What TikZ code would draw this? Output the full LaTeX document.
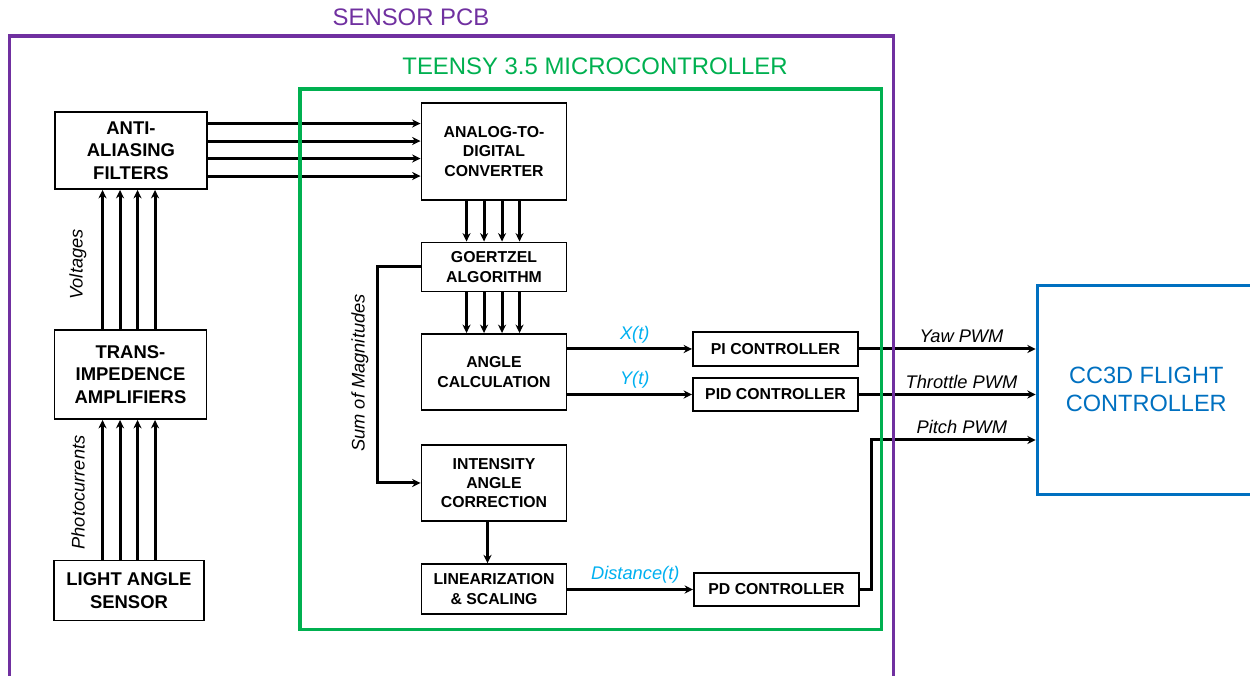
\documentclass[tikz,border=0pt]{standalone}
\usepackage{fontspec}
\setmainfont{Liberation Sans}
\usetikzlibrary{arrows.meta,positioning,calc}
\definecolor{pcb}{HTML}{7030A0}
\definecolor{teensy}{HTML}{00B050}
\definecolor{fc}{HTML}{0070C0}
\definecolor{sig}{HTML}{00B0F0}
\tikzset{
  block/.style={draw=black, fill=white, line width=1.1pt, align=center, inner sep=2pt},
  sensorbox/.style={block, font=\fontsize{10.5}{12.8}\selectfont\bfseries},
  mcubox/.style={block, font=\fontsize{9}{11}\selectfont\bfseries},
  arrow/.style={-{Stealth[length=4.8pt,width=4.6pt]}, line width=1.7pt, draw=black},
  frame/.style={line width=2pt},
  tag/.style={font=\fontsize{10.4}{12}\selectfont\itshape, inner sep=2.5pt},
  vtag/.style={tag, rotate=90},
  sigtag/.style={tag, text=sig},
  heading/.style={font=\fontsize{13.6}{16}\selectfont}
}

\begin{document}
\begin{tikzpicture}[x=1cm,y=1cm]
  \useasboundingbox (0,0) rectangle (25,13.52);
  \clip (0,0) rectangle (25,13.52);

  % sensor chain (left)
  \node[sensorbox, minimum width=3.04cm, minimum height=1.54cm] (aaf) at (2.62,10.51) {ANTI-\\ALIASING\\FILTERS};
  \node[sensorbox, minimum width=3.04cm, minimum height=1.78cm] (tia) at (2.61,6.03) {TRANS-\\IMPEDENCE\\AMPLIFIERS};
  \node[sensorbox, minimum width=3.0cm, minimum height=1.2cm] (las) at (2.58,1.71) {LIGHT ANGLE\\SENSOR};
  \foreach \dx in {0.97,1.32,1.67,2.02} {
    \coordinate (v) at ($(aaf.south west)+(\dx,0)$);
    \draw[arrow] (v |- las.north) -- (v |- tia.south);
    \draw[arrow] (v |- tia.north) -- (v);
  }
  \node[vtag] (volt) at (1.56,8.23) {Voltages};
  \node[vtag] (photo) at (1.56,3.67) {Photocurrents};

  % microcontroller blocks
  \node[mcubox, minimum width=2.9cm, minimum height=1.95cm] (adc) at (9.88,10.49) {ANALOG-TO-\\DIGITAL\\CONVERTER};
  \node[mcubox, minimum width=2.9cm, minimum height=0.98cm] (goe) at (9.88,8.18) {GOERTZEL\\ALGORITHM};
  \node[mcubox, minimum width=2.9cm, minimum height=1.52cm] (ang) at (9.88,6.08) {ANGLE\\CALCULATION};
  \node[mcubox, minimum width=2.9cm, minimum height=1.51cm] (ica) at (9.88,3.86) {INTENSITY\\ANGLE\\CORRECTION};
  \node[mcubox, minimum width=2.9cm, minimum height=0.99cm] (lin) at (9.88,1.74) {LINEARIZATION\\\& SCALING};
  \node[mcubox, minimum width=3.3cm, minimum height=0.67cm] (pi) at (15.51,6.54) {PI CONTROLLER};
  \node[mcubox, minimum width=3.3cm, minimum height=0.67cm] (pid) at (15.51,5.63) {PID CONTROLLER};
  \node[mcubox, minimum width=3.3cm, minimum height=0.67cm] (pd) at (15.53,1.73) {PD CONTROLLER};

  % filters into ADC
  \foreach \dy in {0.25,0.6,0.95,1.3} {
    \coordinate (h) at ($(aaf.north east)+(0,-\dy)$);
    \draw[arrow] (h) -- (h -| adc.west);
  }
  % ADC -> Goertzel -> angle
  \foreach \dx in {0.92,1.27,1.63,1.98} {
    \coordinate (d) at ($(adc.south west)+(\dx,0)$);
    \draw[arrow] (d) -- (d |- goe.north);
    \draw[arrow] (d |- goe.south) -- (d |- ang.north);
  }

  % magnitude path
  \coordinate (bus) at (7.55,0);
  \draw[arrow] (goe.west) -- (goe.west -| bus) |- (ica.west);
  \node[vtag] (sum) at (7.2,6.06) {Sum of Magnitudes};
  \coordinate (drop) at ($(ica.south)+(-0.13,0)$);
  \draw[arrow] (drop) -- (drop |- lin.north);

  % signals to controllers
  \draw[arrow] (ang.east |- pi.west) -- node[sigtag, above, pos=0.54] (xt) {X(t)} (pi.west);
  \draw[arrow] (ang.east |- pid.west) -- node[sigtag, above, pos=0.54] (yt) {Y(t)} (pid.west);
  \draw[arrow] (lin.east |- pd.west) -- node[sigtag, above, pos=0.54] (dist) {Distance(t)} (pd.west);

  % flight controller
  \node[draw=fc, line width=2pt, minimum width=4.35cm, minimum height=4.18cm, text=fc,
        font=\fontsize{13.4}{16}\selectfont, align=center] (cc3d) at (22.925,5.724) {CC3D FLIGHT\\CONTROLLER};
  \draw[arrow] (pi.east) -- node[tag, above, pos=0.58] (yaw) {Yaw PWM} (pi.east -| cc3d.west);
  \draw[arrow] (pid.east) -- node[tag, above, pos=0.58] (thr) {Throttle PWM} (pid.east -| cc3d.west);
  \coordinate (jog) at (17.43,4.72);
  \draw[arrow] (pd.east) -| (jog) -- node[tag, above, pos=0.55] (pitch) {Pitch PWM} (jog -| cc3d.west);

  % enclosures
  \draw[frame, draw=pcb] (0.19,-0.5) rectangle (17.87,12.8);
  \draw[frame, draw=teensy] (6.0,0.93) rectangle (17.63,11.74);
  \node[heading, text=pcb] (pcbtitle) at (8.22,13.18) {SENSOR PCB};
  \node[heading, text=teensy] (mcutitle) at (11.9,12.19) {TEENSY 3.5 MICROCONTROLLER};
\end{tikzpicture}
\end{document}
